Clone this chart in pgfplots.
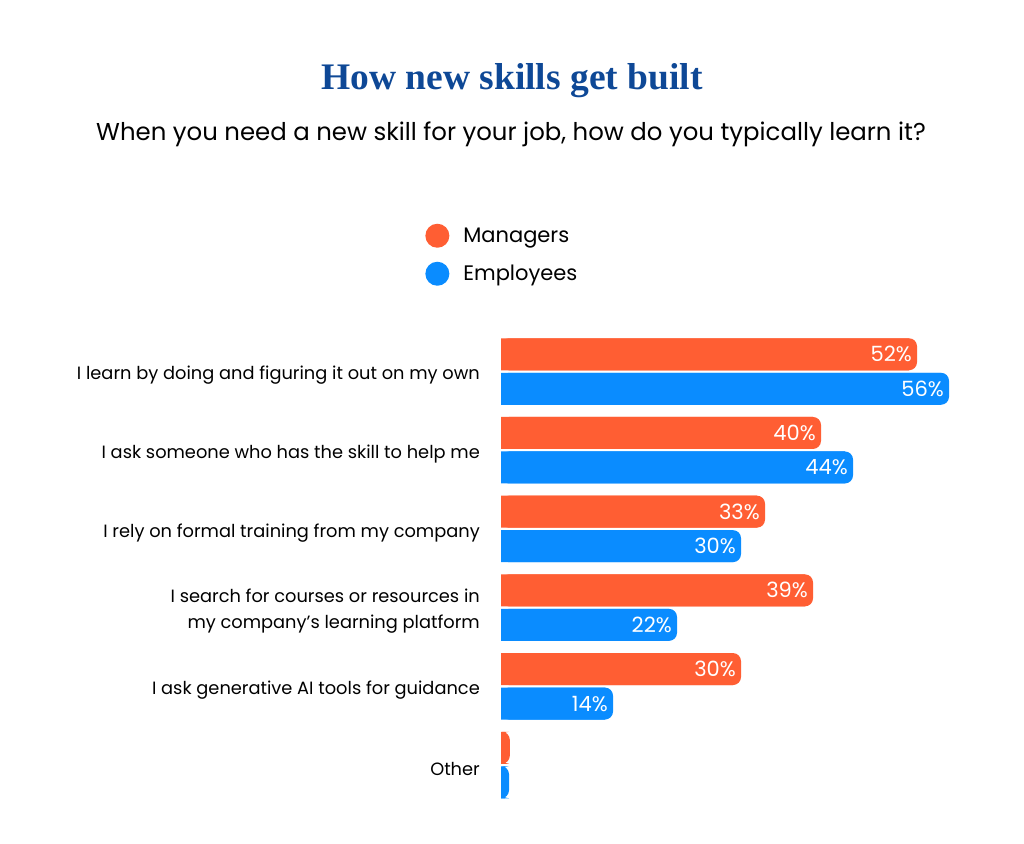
\documentclass[border=0pt]{standalone}
\usepackage{fontspec}
\setmainfont{Poppins}
\newfontfamily\titlefont{Liberation Serif}
\usepackage{pgfplots}
\pgfplotsset{compat=1.18}
\definecolor{mgr}{RGB}{255,94,51}
\definecolor{emp}{RGB}{10,140,255}
\definecolor{ttl}{RGB}{14,72,150}
\pgfplotsset{
  mylegend/.style={legend image code/.code={\fill[draw=none] (12pt,0pt) circle (12pt); \path (36pt,0pt);}},
  valnodes/.style={nodes near coords, point meta=explicit symbolic,
    nodes near coords style={anchor=east, text=white, font=\fontsize{21}{25}\selectfont, inner sep=0pt, xshift=-5pt, yshift=#1}},
}
\begin{document}
\begin{tikzpicture}[x=1pt,y=1pt]
\path[use as bounding box] (0,0) rectangle (1024,843);
\node[font=\titlefont\bfseries\fontsize{37.5}{44}\selectfont, text=ttl] at (512,762) {How new skills get built};
\node[font=\fontsize{24.4}{29}\selectfont] at (511,709) {When you need a new skill for your job, how do you typically learn it?};
\begin{axis}[
  at={(501pt,38.65pt)}, anchor=south west,
  scale only axis, width=480pt, height=472.2pt,
  xmin=0, xmax=60, ymin=-0.5, ymax=5.5,
  axis line style={draw=none}, tick style={draw=none},
  xtick=\empty,
  ytick={0,1,2,3,4,5},
  yticklabels={Other, I ask generative AI tools for guidance, {I search for courses or resources in\\my company’s learning platform}, I rely on formal training from my company, I ask someone who has the skill to help me, I learn by doing and figuring it out on my own},
  yticklabel style={font=\fontsize{17.8}{26}\selectfont, align=right, anchor=east, inner sep=0pt, xshift=-21pt, yshift=-4pt},
  clip=false,
  legend style={draw=none, at={(-0.158,1.23)}, anchor=north west, font=\fontsize{21}{25}\selectfont, row sep=14pt, inner sep=0pt},
  legend cell align=left,
]
\addplot[xbar, mylegend, bar width=32pt, bar shift=17.25pt, fill=mgr, draw=none, rounded corners=8pt, valnodes=17.25pt]
  coordinates {(52,5) [52\%] (40,4) [40\%] (33,3) [33\%] (39,2) [39\%] (30,1) [30\%] (1.1,0) []};
\addlegendentry{Managers}
\addplot[xbar, mylegend, bar width=32pt, bar shift=-17.25pt, fill=emp, draw=none, rounded corners=8pt, valnodes=-17.25pt]
  coordinates {(56,5) [56\%] (44,4) [44\%] (30,3) [30\%] (22,2) [22\%] (14,1) [14\%] (1.0,0) []};
\addlegendentry{Employees}
\addplot[xbar, forget plot, bar width=32pt, bar shift=17.25pt, fill=mgr, draw=none]
  coordinates {(51,5) (39,4) (32,3) (38,2) (29,1) (0.55,0)};
\addplot[xbar, forget plot, bar width=32pt, bar shift=-17.25pt, fill=emp, draw=none]
  coordinates {(55,5) (43,4) (29,3) (21,2) (13,1) (0.5,0)};
\end{axis}
\end{tikzpicture}
\end{document}
